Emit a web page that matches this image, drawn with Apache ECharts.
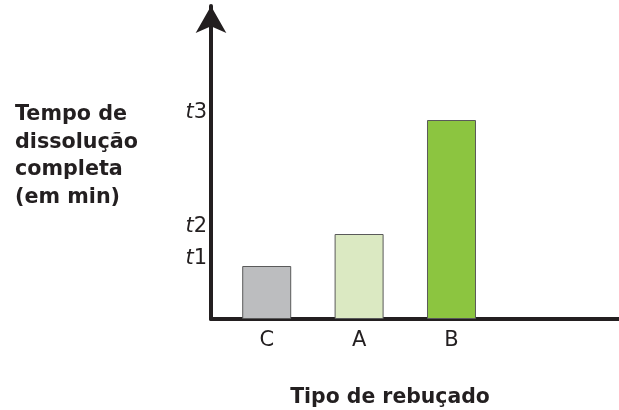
<!DOCTYPE html>
<html>
<head>
<meta charset="utf-8">
<script src="https://cdn.jsdelivr.net/npm/echarts@6/dist/echarts.min.js"></script>
<style>
html,body{margin:0;padding:0;background:#fff;}
#chart{width:619px;height:410px;}
</style>
</head>
<body>
<div id="chart"></div>
<script>
// Data
var categories = ['C', 'A', 'B'];
var values = [53, 85, 199];           // dissolution time (arbitrary units)
var tickValues = [53, 85, 199];       // positions of t1, t2, t3
var tickLabels = ['1', '2', '3'];     // shown as t1, t2, t3
var barColors = ['#bcbdbf', '#dbe9c2', '#8cc540'];
var yAxisTitle = 'Tempo de\ndissolução\ncompleta\n(em min)';
var xAxisTitle = 'Tipo de rebuçado';

var axisColor = '#231f20';
var chart = echarts.init(document.getElementById('chart'), null, {renderer: 'canvas'});

var barData = categories.map(function (c, i) {
  return {value: [i, values[i]], itemStyle: {color: barColors[i]}};
});

chart.setOption({
  animation: false,
  backgroundColor: '#ffffff',
  title: [
    {
      text: yAxisTitle,
      left: 15, top: 101, padding: 0,
      textStyle: {fontFamily: 'DejaVu Sans', fontWeight: 'bold', fontSize: 20.7, lineHeight: 27.5, color: axisColor}
    },
    {
      text: xAxisTitle,
      left: 390, top: 388, padding: 0, textAlign: 'center',
      textStyle: {fontFamily: 'DejaVu Sans', fontWeight: 'bold', fontSize: 20.4, color: axisColor}
    }
  ],
  grid: {left: 211, right: 0, top: 6, bottom: 91, containLabel: false, outerBoundsMode: 'none'},
  xAxis: {
    type: 'value',
    min: -0.603, max: 3.813,
    splitLine: {show: false},
    axisTick: {show: false},
    axisLine: {show: true, onZero: true, lineStyle: {color: axisColor, width: 4}},
    axisLabel: {
      customValues: [0, 1, 2],
      formatter: function (v) { return categories[Math.round(v)] || ''; },
      fontFamily: 'DejaVu Sans', fontSize: 21, color: axisColor, margin: 11
    }
  },
  yAxis: {
    type: 'value',
    min: 0, max: 313,
    splitLine: {show: false},
    axisTick: {show: false},
    axisLine: {
      show: true, onZero: false,
      symbol: ['none', 'arrow'], symbolSize: [23, 27],
      lineStyle: {color: axisColor, width: 4}
    },
    axisLabel: {
      customValues: tickValues,
      formatter: function (v) {
        var i = tickValues.indexOf(v);
        return i < 0 ? '' : '{i|t}{n|' + tickLabels[i] + '}';
      },
      verticalAlign: 'bottom',
      margin: 4,
      rich: {
        i: {fontFamily: 'DejaVu Sans', fontStyle: 'italic', fontSize: 21, lineHeight: 15, color: axisColor},
        n: {fontFamily: 'DejaVu Sans', fontSize: 21, lineHeight: 15, color: axisColor}
      }
    }
  },
  series: [{
    type: 'bar',
    data: barData,
    barWidth: 49,
    itemStyle: {borderColor: '#5a5a5a', borderWidth: 1}
  }]
});
</script>
</body>
</html>
